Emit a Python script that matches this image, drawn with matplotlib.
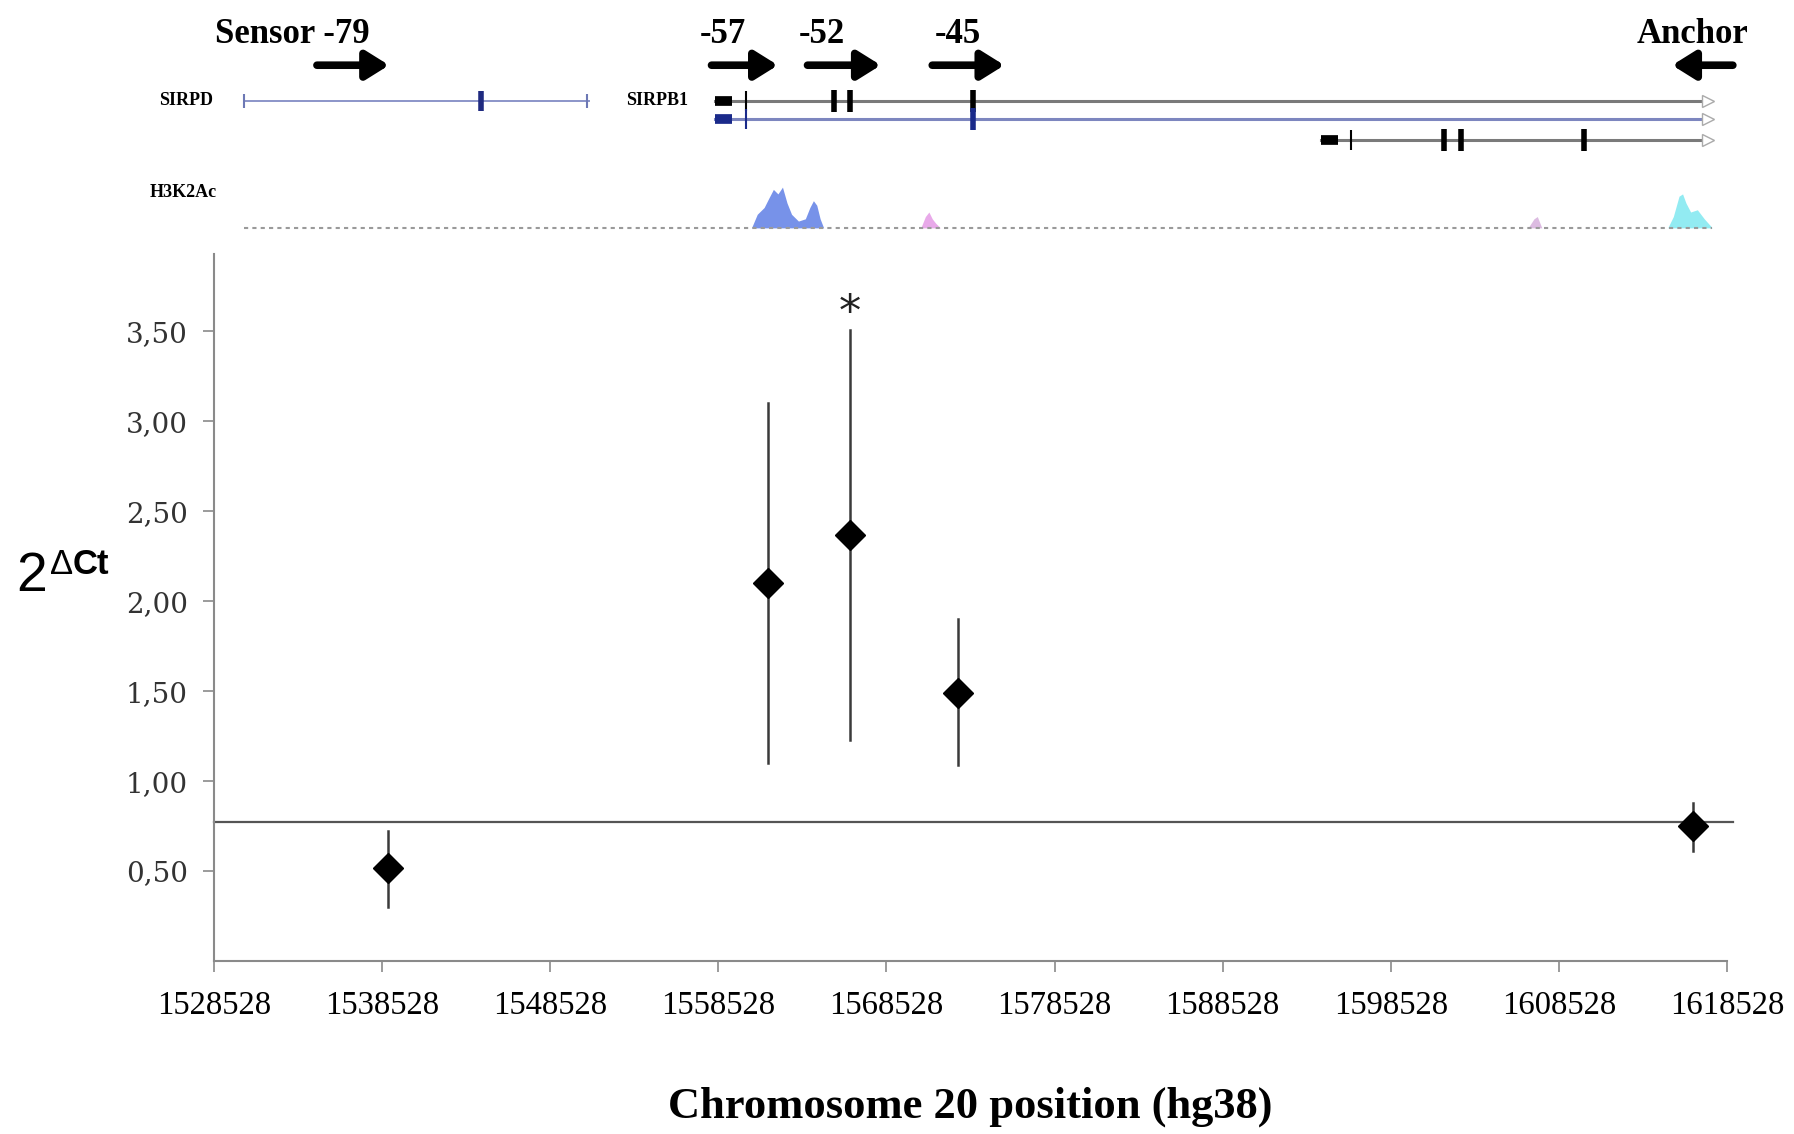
import matplotlib.pyplot as plt
import numpy as np

# qPCR (3C) data: position on chr20 (hg38), 2^dCt, error bar ends
positions = [1538870, 1561450, 1566350, 1572810, 1616490]
values = [0.515, 2.10, 2.37, 1.49, 0.75]
err_low = [0.30, 1.10, 1.23, 1.09, 0.61]
err_high = [0.72, 3.10, 3.51, 1.90, 0.88]
significant = [False, False, True, False, False]
baseline = 0.775

xticks = [1528528 + 10000 * i for i in range(10)]
yticks = [0.5, 1.0, 1.5, 2.0, 2.5, 3.0, 3.5]
ytick_labels = ["0,50", "1,00", "1,50", "2,00", "2,50", "3,00", "3,50"]

# primers (start, end) and labels
primer_labels = ["Sensor -79", "-57", "-52", "-45", "Anchor"]
primer_start = [1534650, 1558120, 1563830, 1571250, 1618870]
primer_end = [1538940, 1562070, 1568190, 1575540, 1615260]
primer_label_x = [1528600, 1558800, 1564700, 1572800, 1616500]

# gene models
sirpd_span = (1530300, 1550840)
sirpd_exons = [1544380]
sirpd_thin = [1530300, 1550700]
sirpb1_tx1_span = (1558330, 1617370)
sirpb1_tx1_utr = (1558330, 1559350)
sirpb1_tx1_exons = [1565400, 1566350, 1573700]
sirpb1_tx2_span = (1558330, 1617370)
sirpb1_tx2_utr = (1558330, 1559350)
sirpb1_tx2_exons = [1573700]
sirpb1_tx3_span = (1594380, 1617370)
sirpb1_tx3_utr = (1594380, 1595400)
sirpb1_tx3_exons = [1601660, 1602680, 1610020]
sirpb1_thin = [1560160, 1560160, 1596150]

# H3K27Ac signal peaks (position, height)
peak_blue_x = [1560500, 1560840, 1561250, 1561520, 1561800, 1562070, 1562340, 1562610,
               1562880, 1563290, 1563700, 1563970, 1564180, 1564380, 1564580, 1564790]
peak_blue_y = [0, 12, 18, 26, 34, 30, 36, 22, 12, 6, 8, 18, 24, 20, 8, 0]
peak_cyan_x = [1615000, 1615330, 1615670, 1615880, 1616080, 1616360, 1616760, 1617170, 1617650]
peak_cyan_y = [0, 10, 28, 30, 22, 14, 16, 8, 0]
peak_pink1_x = [1570570, 1570840, 1571050, 1571250, 1571460, 1571730]
peak_pink1_y = [0, 10, 14, 8, 4, 0]
peak_pink2_x = [1606690, 1607040, 1607240, 1607510]
peak_pink2_y = [0, 8, 10, 0]
signal_span = (1530300, 1617650)

serif = "Liberation Serif"

fig = plt.figure(figsize=(17.94, 11.34), dpi=100)
ax = fig.add_axes([0.1193, 0.1526, 0.8434, 0.6234])

# error bars and diamonds
for x, v, lo, hi in zip(positions, values, err_low, err_high):
    ax.plot([x, x], [lo, hi], color="#3a3a3a", lw=1.8, zorder=2)
ax.plot(positions, values, linestyle="none", marker="D", markersize=15,
        color="black", zorder=3)
for x, hi, s in zip(positions, err_high, significant):
    if s:
        ax.text(x, hi - 0.03, "*", ha="center", va="bottom", fontsize=32,
                family="DejaVu Sans", color="#222222")

ax.axhline(baseline, xmin=0, xmax=1.004, color="#555555", lw=1.6, clip_on=False)

ax.set_xlim(xticks[0], xticks[-1])
ax.set_ylim(0, 3.93)
ax.set_xticks(xticks)
ax.set_xticklabels([str(t) for t in xticks], family=serif, fontsize=23.5)
ax.set_yticks(yticks)
ax.set_yticklabels(ytick_labels, family="DejaVu Serif", fontsize=20, color="#333333")
for s in ["top", "right"]:
    ax.spines[s].set_visible(False)
for s in ["left", "bottom"]:
    ax.spines[s].set_color("#8a8a8a")
    ax.spines[s].set_linewidth(1.5)
ax.tick_params(axis="y", length=8, width=1.2, color="#8a8a8a", pad=11)
ax.tick_params(axis="x", length=8, width=1.2, color="#8a8a8a", pad=13)

fig.text(0.541, 0.024, "Chromosome 20 position (hg38)", ha="center", va="center",
         family=serif, fontweight="bold", fontsize=32)
fig.text(0.009, 0.491, "2", ha="left", va="center", family="Liberation Sans", fontsize=40)
fig.text(0.028, 0.502, "\u0394", ha="left", va="center", family="Liberation Sans",
         fontsize=25)
fig.text(0.0405, 0.502, "Ct", ha="left", va="center", family="Liberation Sans",
         fontweight="bold", fontsize=25)

# genome browser panel
gax = fig.add_axes([0.1193, 0.783, 0.8434, 0.217], sharex=ax)
gax.set_ylim(0, 1)
gax.axis("off")

row_y = [0.591, 0.516, 0.433]
arrow_y = 0.735
label_y = 0.86
sig_y = 0.074
sig_scale = 0.0046

# primer arrows
for start, end in zip(primer_start, primer_end):
    gax.annotate("", xy=(end, arrow_y), xytext=(start, arrow_y),
                 arrowprops=dict(arrowstyle="-|>,head_length=0.8,head_width=0.5",
                                 lw=5.5, color="black", shrinkA=0, shrinkB=0,
                                 mutation_scale=17),
                 annotation_clip=False)
for lab, lx in zip(primer_labels, primer_label_x):
    ha = "left" if lab.startswith("Sensor") else "center"
    gax.text(lx, label_y, lab, ha=ha, va="center", family=serif,
             fontweight="bold", fontsize=25, clip_on=False)

# SIRPD
gax.plot(sirpd_span, [row_y[0]] * 2, color="#8b95c9", lw=1.4)
gax.plot(sirpd_exons, [row_y[0]] * len(sirpd_exons), linestyle="none", marker="|",
         markersize=14, markeredgewidth=4, color="#1f2a80")
gax.plot(sirpd_thin, [row_y[0]] * len(sirpd_thin), linestyle="none", marker="|",
         markersize=10, markeredgewidth=1.5, color="#6d78b5")
gax.text(sirpd_span[0] - 1840, row_y[0], "SIRPD", ha="right", va="center",
         family=serif, fontweight="bold", fontsize=13, clip_on=False)

# SIRPB1 transcripts
tx = [
    (sirpb1_tx1_span, sirpb1_tx1_utr, sirpb1_tx1_exons, "#7a7a7a", "black"),
    (sirpb1_tx2_span, sirpb1_tx2_utr, sirpb1_tx2_exons, "#7d86bf", "#1a2a8a"),
    (sirpb1_tx3_span, sirpb1_tx3_utr, sirpb1_tx3_exons, "#7a7a7a", "black"),
]
for y, (span, utr, exons, lc, ec), thin in zip(row_y[:3], tx, sirpb1_thin):
    gax.plot(span, [y, y], color=lc, lw=2.2)
    gax.plot(utr, [y, y], color=ec, lw=7, solid_capstyle="butt")
    gax.plot([thin], [y], marker="|", markersize=14, markeredgewidth=1.5, color=ec)
    gax.plot(exons, [y] * len(exons), linestyle="none", marker="|",
             markersize=16, markeredgewidth=4, color=ec)
    gax.plot([span[1]], [y], marker=">", markersize=9, markerfacecolor="white",
             markeredgecolor="#aaaaaa", markeredgewidth=1)
gax.text(sirpb1_tx1_span[0] - 1630, row_y[0], "SIRPB1", ha="right", va="center",
         family=serif, fontweight="bold", fontsize=13, clip_on=False)

# H3K27Ac signal
gax.plot(signal_span, [sig_y, sig_y], color="#9a9a9a", lw=1.5, linestyle=(0, (2, 2)))
for px, py, c in [(peak_blue_x, peak_blue_y, "#5f7fe6"),
                  (peak_cyan_x, peak_cyan_y, "#7fe8f0"),
                  (peak_pink1_x, peak_pink1_y, "#e59ae6"),
                  (peak_pink2_x, peak_pink2_y, "#d6b0dc")]:
    top = sig_y + np.array(py) * sig_scale
    gax.fill_between(px, sig_y, top, color=c, alpha=0.85, lw=0)
gax.text(1524700, 0.219, "H3K2Ac", ha="left", va="center", family=serif,
         fontweight="bold", fontsize=13, clip_on=False)

fig.savefig("out.png", dpi=100)
